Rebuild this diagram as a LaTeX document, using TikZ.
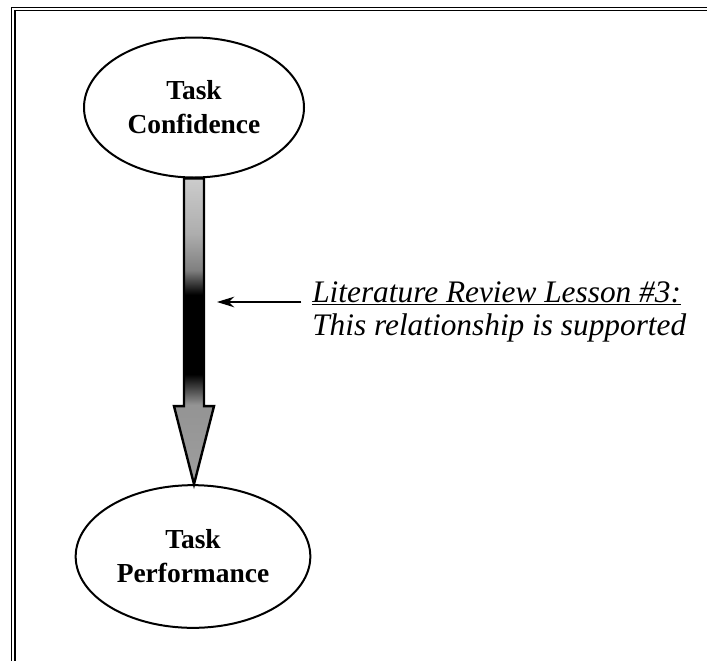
\documentclass[tikz,border=0pt]{standalone}
\usepackage{fontspec}
\setmainfont{Liberation Serif}
\usetikzlibrary{arrows.meta,shapes.geometric,calc}
\definecolor{fgA}{gray}{0.62}
\definecolor{fgB}{gray}{0.58}
\definecolor{fgC}{gray}{0.5}
\definecolor{fgD}{gray}{0.68}
\definecolor{fgE}{gray}{0.8}
\pgfdeclareverticalshading{fatgrad}{100bp}{color(0bp)=(fgA); color(25bp)=(fgA); color(38bp)=(fgB); color(43bp)=(black); color(56bp)=(black); color(60bp)=(fgC); color(66bp)=(fgD); color(75bp)=(fgE); color(100bp)=(fgE)}
\begin{document}
\begin{tikzpicture}[x=0.75pt,y=-0.75pt,
  frameline/.style={line width=0.8pt},
  bubble/.style={ellipse, draw, line width=1.5pt, inner sep=0pt, align=center,
    font=\fontsize{20.6}{25.5}\selectfont\bfseries},
  note/.style={inner sep=0pt, anchor=base west, font=\fontsize{23.5}{28}\selectfont\itshape},
  pointer/.style={line width=1.1pt, -{Stealth[length=13pt,width=8pt]}},
  fatarrow/.style={draw, line width=1.8pt, line join=miter, shading=fatgrad}]
\useasboundingbox (0,0) rectangle (707,661);
% frame
\draw[frameline] (707,7.3) -- (11.7,7.3) -- (11.7,661);
\draw[frameline] (707,10.3) -- (15,10.3) -- (15,661);
% nodes
\node[bubble, minimum width=165pt, minimum height=105pt] (conf) at (194,107.5) {Task\\Confidence};
\node[bubble, minimum width=176pt, minimum height=107pt] (perf) at (193,556.5) {Task\\Performance};
% fat arrow
\path[fatarrow] let \p1=(conf.south), \p2=(perf.north) in
  (\x1-7.5pt,\y1) -- (\x1+7.5pt,\y1) -- (\x1+7.5pt,\y2+58.5pt) -- (\x1+15pt,\y2+58.5pt)
  -- (\x1,\y2) -- (\x1-15pt,\y2+58.5pt) -- (\x1-7.5pt,\y2+58.5pt) -- cycle;
% note
\node[note] (lbl1) at (312,302) {Literature Review Lesson \#3:};
\node[note] (lbl2) at (312,335) {This relationship is supported};
\draw[line width=1.1pt] ([yshift=-2pt]lbl1.base west) -- ([yshift=-2pt]lbl1.base east);
\coordinate (ptr) at ($(conf.south |- lbl1.base west)+(23,0)$);
\draw[pointer] ([xshift=-8pt]lbl1.base west) -- (ptr);
\end{tikzpicture}
\end{document}
